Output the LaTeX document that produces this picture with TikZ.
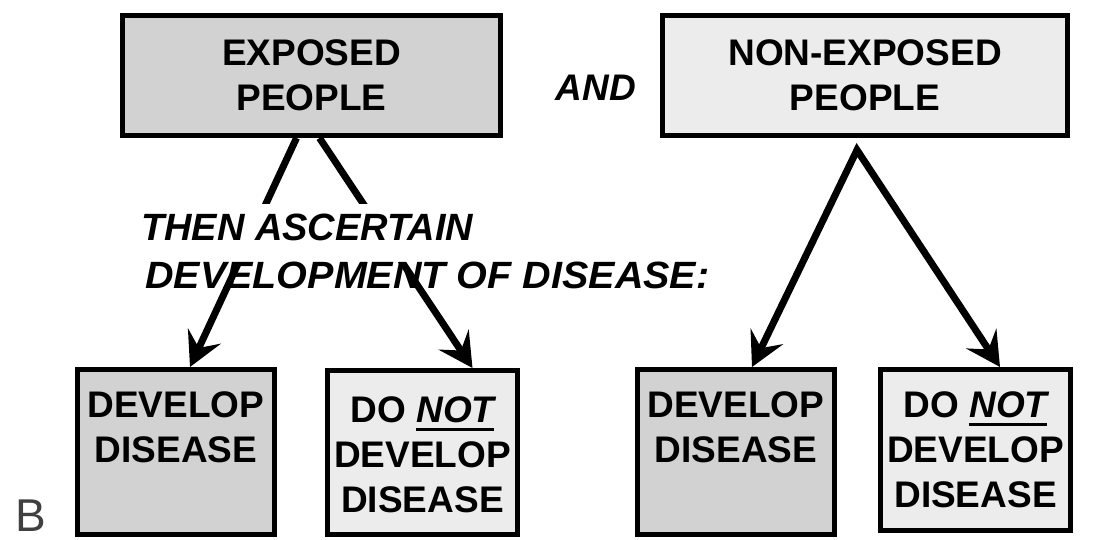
\documentclass[tikz,border=0pt]{standalone}
\usepackage{fontspec}
\setmainfont{Liberation Sans}
\usetikzlibrary{arrows.meta}

\definecolor{darkfill}{HTML}{D2D2D2}
\definecolor{lightfill}{HTML}{ECECEC}

% text block hung from the top of a fixed-height box
\newcommand\toptext[2]{\parbox[c][#1][t]{190pt}{\centering #2}}
% thick underline
\newcommand\undr[1]{\leavevmode\setbox0\hbox{#1}\rlap{\rule[-8pt]{\wd0}{3pt}}\box0}

\begin{document}
\begin{tikzpicture}[x=1pt,y=-1pt,
  >={Stealth[length=34pt,width=36pt,inset=13pt]},
  box/.style={draw=black, line width=5pt, inner sep=0pt,
    font=\fontsize{37}{45}\selectfont\bfseries, align=center},
  flow/.style={line width=7pt, line join=miter, ->},
  note/.style={font=\fontsize{38}{45}\selectfont\bfseries\itshape,
    inner sep=0pt, anchor=base west},
]
\useasboundingbox (0,0) rectangle (1101,539);

% top groups
\node[box, fill=darkfill, minimum width=378pt, minimum height=120pt] (e1) at (311.5,75.5) {EXPOSED\\PEOPLE};
\node[box, fill=lightfill, minimum width=405pt, minimum height=120pt] (e2) at (865,75.5) {NON-EXPOSED\\PEOPLE};
\node[note, font=\fontsize{37}{45}\selectfont\bfseries\itshape, anchor=center] (and) at (596,88) {AND};

% outcome boxes
\node[box, fill=darkfill, minimum width=197pt, minimum height=165pt] (d1) at (176,452)
  {\toptext{120pt}{DEVELOP\\DISEASE}};
\node[box, fill=lightfill, minimum width=190pt, minimum height=164pt] (d2) at (422.5,452.5)
  {\toptext{111pt}{DO \undr{\itshape NOT}\\DEVELOP\\DISEASE}};
\node[box, fill=darkfill, minimum width=197pt, minimum height=165pt] (d3) at (736,452)
  {\toptext{120pt}{DEVELOP\\DISEASE}};
\node[box, fill=lightfill, minimum width=190pt, minimum height=161pt] (d4) at (975.5,450)
  {\toptext{116pt}{DO \undr{\itshape NOT}\\DEVELOP\\DISEASE}};

% arrows from the exposed group
\draw[flow] ([xshift=-15pt]e1.south) -- ([xshift=14pt]d1.north);
\draw[flow] ([xshift=8pt]e1.south) -- ([xshift=50pt]d2.north);

% arrows from the non-exposed group, joined at one point
\coordinate (split) at ([xshift=-8pt,yshift=-12pt]e2.south);
\draw[flow, <->]
  ([xshift=16pt]d3.north) -- (split) -- ([xshift=24.5pt]d4.north);

% instruction text; its first line masks the arrows behind it
\node[note, fill=white, text depth=13pt, inner ysep=9pt, inner xsep=4pt] (t1) at (137,240) {THEN ASCERTAIN};
\node[note] (t2) at (145,288) {\scalebox{1.04}[1]{DEVELOPMENT OF DISEASE:}};

% panel letter
\node[font=\fontsize{46}{46}\selectfont, text=black!75, inner sep=0pt, anchor=base west] (lbl) at (15,531) {B};
\end{tikzpicture}
\end{document}
